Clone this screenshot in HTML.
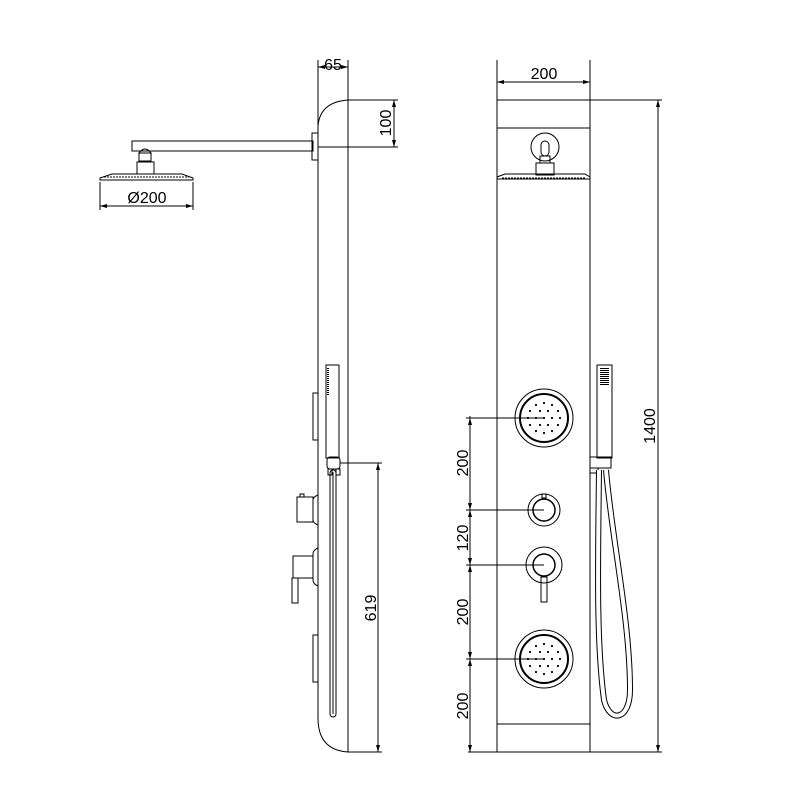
<!DOCTYPE html>
<html><head><style>body{margin:0;background:#fff}svg{display:block}</style></head><body>
<svg width="800" height="800" viewBox="0 0 800 800" xmlns="http://www.w3.org/2000/svg" font-family="Liberation Sans, sans-serif" font-size="16">
<rect width="800" height="800" fill="#fff"/>
<g fill="none" stroke="#000" stroke-width="1">
<!-- SIDE VIEW -->
<path d="M318 126 Q320 102 348 100 M318 126 V718 Q318 750 348 752 M348 60 V752"/>
<line x1="318" y1="60" x2="318" y2="126"/>
<line x1="318" y1="67" x2="348" y2="67"/>
<line x1="348" y1="100" x2="398" y2="100"/>
<line x1="318" y1="147" x2="398" y2="147"/>
<line x1="394" y1="100" x2="394" y2="147"/>
<!-- arm -->
<rect x="132" y="141" width="181" height="10"/>
<rect x="312" y="133" width="6" height="27"/>
<!-- head side -->
<path d="M139 153 Q145 145 151 153 Z"/>
<rect x="139" y="153" width="12" height="8"/>
<rect x="137" y="162" width="17" height="12"/>
<path d="M100 178 L112 174 L182 174 L193 178 L193 180 L100 180 Z"/>
<line x1="104" y1="177" x2="189" y2="177" stroke-dasharray="2 1"/>
<line x1="100" y1="182" x2="100" y2="210"/>
<line x1="193" y1="182" x2="193" y2="210"/>
<line x1="100" y1="206" x2="193" y2="206"/>
<!-- jets side -->
<rect x="313" y="393" width="5" height="47"/>
<rect x="313" y="635" width="5" height="47"/>
<!-- thermostat side -->
<path d="M318 495 Q313 497 313 500 V520 Q313 523 318 525"/>
<rect x="297" y="497" width="16" height="25"/>
<rect x="300" y="494" width="4" height="3"/>
<!-- lever side -->
<path d="M318 548 Q313 550 313 554 V580 Q313 584 318 586"/>
<rect x="293" y="556" width="20" height="22"/>
<rect x="292" y="578" width="6" height="25"/>
<!-- hand shower side -->
<rect x="326" y="365" width="13" height="93"/>
<line x1="328" y1="368" x2="328" y2="395" stroke-width="2" stroke-dasharray="1 1"/>
<rect x="327" y="457" width="13" height="12" rx="3"/>
<rect x="328" y="469" width="4" height="6"/>
<rect x="336" y="469" width="4" height="6"/>
<rect x="330" y="470" width="6" height="247" rx="3"/>
<line x1="333" y1="472" x2="333" y2="714"/>
<!-- 619 dim -->
<line x1="340" y1="463" x2="382" y2="463"/>
<line x1="348" y1="752" x2="382" y2="752"/>
<line x1="378" y1="463" x2="378" y2="752"/>

<!-- FRONT VIEW -->
<rect x="497" y="100" width="93" height="652"/>
<line x1="497" y1="128" x2="590" y2="128"/>
<line x1="497" y1="724" x2="590" y2="724"/>
<line x1="497" y1="60" x2="497" y2="100"/>
<line x1="590" y1="60" x2="590" y2="100"/>
<line x1="497" y1="82" x2="590" y2="82"/>
<line x1="590" y1="100" x2="662" y2="100"/>
<line x1="468" y1="752" x2="662" y2="752"/>
<line x1="658" y1="100" x2="658" y2="752"/>
<!-- head front -->
<circle cx="545" cy="147" r="14"/>
<rect x="541" y="141" width="8" height="15" rx="4"/>
<rect x="540" y="156" width="10" height="7"/>
<rect x="536" y="163" width="18" height="12"/>
<path d="M497 177 L505 174 L585 174 L590 177 L590 179 L497 179 Z"/>
<line x1="502" y1="178" x2="585" y2="178" stroke-dasharray="2 1"/>
<!-- left dim -->
<line x1="470" y1="416" x2="470" y2="752"/>
<line x1="466" y1="418" x2="544" y2="418"/>
<line x1="466" y1="510" x2="544" y2="510"/>
<line x1="466" y1="565" x2="544" y2="565"/>
<line x1="466" y1="659" x2="544" y2="659"/>
<!-- jets -->
<circle cx="544" cy="418" r="29"/>
<circle cx="544" cy="418" r="24" stroke-width="2"/>
<circle cx="544" cy="659" r="29"/>
<circle cx="544" cy="659" r="24" stroke-width="2"/>
<!-- knob -->
<circle cx="544" cy="510" r="16"/>
<circle cx="544" cy="510" r="11" stroke-width="1.5"/>
<rect x="542" y="494" width="4" height="4"/>
<!-- lever -->
<circle cx="544" cy="565" r="18"/>
<circle cx="544" cy="565" r="11" stroke-width="1.5"/>
<rect x="541" y="577" width="6" height="25"/>
<!-- hand shower front -->
<rect x="597" y="365" width="15" height="93"/>
<line x1="604.5" y1="368" x2="604.5" y2="386" stroke-width="9" stroke-dasharray="1 1"/>
<rect x="590" y="457" width="21" height="11"/>
<rect x="590" y="468" width="8" height="5"/>
<path d="M599 470 C598 560 596 640 604 700 C610 724 630 720 630 690 C630 620 612 540 606 470" stroke-width="6"/>
<path d="M599 470 C598 560 596 640 604 700 C610 724 630 720 630 690 C630 620 612 540 606 470" stroke="#fff" stroke-width="4"/>
</g>
<!-- arrowheads -->
<g fill="#000">
<path d="M318 67 l7 -2 v4 Z M348 67 l-7 -2 v4 Z"/>
<path d="M394 100 l-2 7 h4 Z M394 147 l-2 -7 h4 Z"/>
<path d="M100 206 l7 -2 v4 Z M193 206 l-7 -2 v4 Z"/>
<path d="M378 463 l-2 7 h4 Z M378 752 l-2 -7 h4 Z"/>
<path d="M497 82 l7 -2 v4 Z M590 82 l-7 -2 v4 Z"/>
<path d="M658 100 l-2 7 h4 Z M658 752 l-2 -7 h4 Z"/>
<path d="M470 418 l-2 7 h4 Z M470 510 l-2 -7 h4 Z M470 510 l-2 7 h4 Z M470 565 l-2 -7 h4 Z M470 565 l-2 7 h4 Z M470 659 l-2 -7 h4 Z M470 659 l-2 7 h4 Z M470 752 l-2 -7 h4 Z"/>
</g>
<g fill="#000">
<g id="dots">
<circle cx="544" cy="403" r="1.1"/><circle cx="536" cy="405" r="1.1"/><circle cx="552" cy="405" r="1.1"/>
<circle cx="530" cy="411" r="1.1"/><circle cx="540" cy="411" r="1.1"/><circle cx="548" cy="411" r="1.1"/><circle cx="558" cy="411" r="1.1"/>
<circle cx="528" cy="418" r="1.1"/><circle cx="536" cy="418" r="1.1"/><circle cx="552" cy="418" r="1.1"/><circle cx="560" cy="418" r="1.1"/>
<circle cx="530" cy="425" r="1.1"/><circle cx="540" cy="425" r="1.1"/><circle cx="548" cy="425" r="1.1"/><circle cx="558" cy="425" r="1.1"/>
<circle cx="536" cy="431" r="1.1"/><circle cx="552" cy="431" r="1.1"/><circle cx="544" cy="433" r="1.1"/><circle cx="544" cy="418" r="1.1"/>
</g>
<use href="#dots" y="241"/>
</g>
<g fill="#000">
<text x="333" y="70" text-anchor="middle">65</text>
<text x="147" y="203" text-anchor="middle">Ø200</text>
<text transform="translate(391,123) rotate(-90)" text-anchor="middle">100</text>
<text transform="translate(376,608) rotate(-90)" text-anchor="middle">619</text>
<text x="544" y="79" text-anchor="middle">200</text>
<text transform="translate(655,426) rotate(-90)" text-anchor="middle">1400</text>
<text transform="translate(468,463) rotate(-90)" text-anchor="middle">200</text>
<text transform="translate(468,538) rotate(-90)" text-anchor="middle">120</text>
<text transform="translate(468,612) rotate(-90)" text-anchor="middle">200</text>
<text transform="translate(468,706) rotate(-90)" text-anchor="middle">200</text>
</g>
</svg>
</body></html>
